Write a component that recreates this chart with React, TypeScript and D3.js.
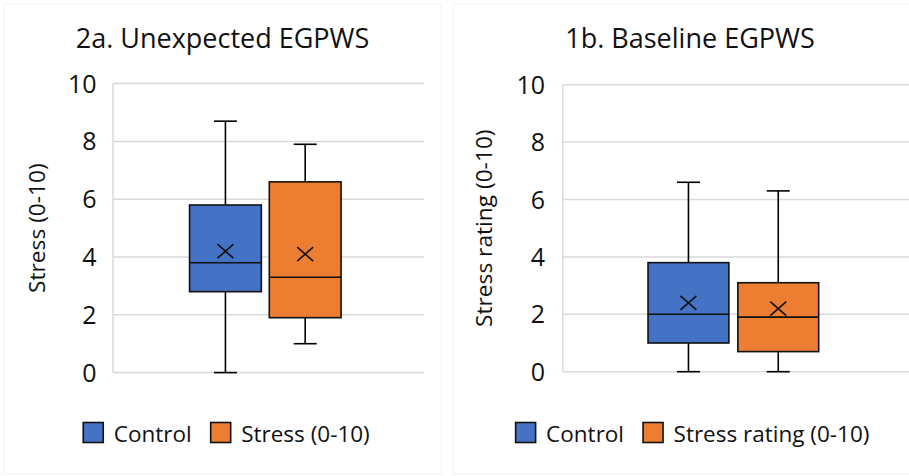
import React from "react";
import * as d3 from "d3";

// Summary statistics for each box (min, quartiles, max, mean)
const unexpectedTitle = "2a. Unexpected EGPWS";
const unexpectedAxisLabel = "Stress (0-10)";
const unexpectedSeries = ["Control", "Stress (0-10)"];
const unexpectedMin = [0, 1.0];
const unexpectedQ1 = [2.8, 1.9];
const unexpectedMedian = [3.8, 3.3];
const unexpectedQ3 = [5.8, 6.6];
const unexpectedMax = [8.7, 7.9];
const unexpectedMean = [4.2, 4.1];

const baselineTitle = "1b. Baseline EGPWS";
const baselineAxisLabel = "Stress rating (0-10)";
const baselineSeries = ["Control", "Stress rating (0-10)"];
const baselineMin = [0, 0];
const baselineQ1 = [1.0, 0.7];
const baselineMedian = [2.0, 1.9];
const baselineQ3 = [3.8, 3.1];
const baselineMax = [6.6, 6.3];
const baselineMean = [2.4, 2.2];

const yTicks = [0, 2, 4, 6, 8, 10];
const seriesColors = ["#4472C4", "#ED7D31"];

const FONT = "'Open Sans', 'Noto Sans', sans-serif";
const LEGEND_SIZE = 22.5;
const INK = "#111111";

function measure(text: string, size: number): number {
  const canvas = document.createElement("canvas");
  const ctx = canvas.getContext("2d");
  if (!ctx) return text.length * size * 0.55;
  ctx.font = `${size}px 'Open Sans'`;
  return ctx.measureText(text).width;
}

type PanelProps = {
  title: string;
  axisLabel: string;
  series: string[];
  mins: number[];
  q1s: number[];
  medians: number[];
  q3s: number[];
  maxs: number[];
  means: number[];
  frame: [number, number, number, number]; // x0, y0, x1, y1 of chart area
  plotX: [number, number];
  plotY: [number, number];
  bandAlign: number;
  paddingOuter: number;
  gridRight: number;
  axisLabelX: number;
  tickRight: number;
  center: number;
  legendCenter: number;
};

function Panel(p: PanelProps) {
  const y = d3.scaleLinear().domain([0, 10]).range([p.plotY[0], p.plotY[1]]);
  const x = d3
    .scaleBand<string>()
    .domain(p.series)
    .range(p.plotX)
    .paddingInner(0.1)
    .paddingOuter(p.paddingOuter)
    .align(p.bandAlign);
  const bw = x.bandwidth();
  const capHalf = 11.5;

  // legend layout, centred under the chart
  const markerW = 20;
  const textGap = 10.5;
  const itemGap = 19;
  const widths = p.series.map((s) => measure(s, LEGEND_SIZE));
  const total =
    widths.reduce((a, w) => a + markerW + textGap + w, 0) + itemGap * (p.series.length - 1);
  let lx = p.legendCenter - total / 2;
  const legendItems = p.series.map((s, i) => {
    const item = { x: lx, label: s, color: seriesColors[i] };
    lx += markerW + textGap + widths[i] + itemGap;
    return item;
  });

  const plotCenterY = (p.plotY[0] + p.plotY[1]) / 2;

  return (
    <g>
      <rect
        x={p.frame[0]}
        y={p.frame[1]}
        width={p.frame[2] - p.frame[0]}
        height={p.frame[3] - p.frame[1]}
        fill="#ffffff"
        stroke="#f3f3f3"
        strokeWidth={1}
      />
      <text
        x={p.center}
        y={47.5}
        textAnchor="middle"
        fontFamily={FONT}
        fontSize={27}
        fill={INK}
      >
        {p.title}
      </text>

      {/* gridlines */}
      {yTicks.map((t) => (
        <line
          key={`g${t}`}
          x1={p.plotX[0]}
          x2={p.gridRight}
          y1={y(t)}
          y2={y(t)}
          stroke="#d9d9d9"
          strokeWidth={1.5}
        />
      ))}
      <line
        x1={p.plotX[0]}
        x2={p.plotX[0]}
        y1={y(0)}
        y2={y(10)}
        stroke="#d9d9d9"
        strokeWidth={1.5}
      />

      {/* tick labels */}
      {yTicks.map((t) => (
        <text
          key={`t${t}`}
          x={p.tickRight}
          y={y(t) + 9}
          textAnchor="end"
          fontFamily={FONT}
          fontSize={25}
          fill={INK}
        >
          {t}
        </text>
      ))}

      <text
        transform={`translate(${p.axisLabelX},${plotCenterY}) rotate(-90)`}
        textAnchor="middle"
        dominantBaseline="central"
        fontFamily={FONT}
        fontSize={22.7}
        fill={INK}
      >
        {p.axisLabel}
      </text>

      {/* boxes */}
      {p.series.map((s, i) => {
        const x0 = x(s) ?? 0;
        const cx = x0 + bw / 2;
        const mx = 8;
        const my = 7;
        return (
          <g key={s}>
            <line x1={cx} x2={cx} y1={y(p.maxs[i])} y2={y(p.q3s[i])} stroke="#000" strokeWidth={1.6} />
            <line x1={cx} x2={cx} y1={y(p.q1s[i])} y2={y(p.mins[i])} stroke="#000" strokeWidth={1.6} />
            <line
              x1={cx - capHalf}
              x2={cx + capHalf}
              y1={y(p.maxs[i])}
              y2={y(p.maxs[i])}
              stroke="#000"
              strokeWidth={1.6}
            />
            <line
              x1={cx - capHalf}
              x2={cx + capHalf}
              y1={y(p.mins[i])}
              y2={y(p.mins[i])}
              stroke="#000"
              strokeWidth={1.6}
            />
            <rect
              x={x0}
              y={y(p.q3s[i])}
              width={bw}
              height={y(p.q1s[i]) - y(p.q3s[i])}
              fill={seriesColors[i]}
              stroke={INK}
              strokeWidth={1.6}
            />
            <line
              x1={x0}
              x2={x0 + bw}
              y1={y(p.medians[i])}
              y2={y(p.medians[i])}
              stroke={INK}
              strokeWidth={1.6}
            />
            <path
              d={`M${cx - mx},${y(p.means[i]) - my}L${cx + mx},${y(p.means[i]) + my}M${cx - mx},${
                y(p.means[i]) + my
              }L${cx + mx},${y(p.means[i]) - my}`}
              stroke={INK}
              strokeWidth={1.6}
              fill="none"
            />
          </g>
        );
      })}

      {/* legend */}
      {legendItems.map((it) => (
        <g key={it.label}>
          <rect
            x={it.x}
            y={422.5}
            width={markerW}
            height={20}
            fill={it.color}
            stroke={INK}
            strokeWidth={1.6}
          />
          <text
            x={it.x + markerW + textGap}
            y={441.5}
            fontFamily={FONT}
            fontSize={LEGEND_SIZE}
            fill={INK}
          >
            {it.label}
          </text>
        </g>
      ))}
    </g>
  );
}

export default function App() {
  return (
    <svg
      width={909}
      height={476}
      style={{ position: "absolute", left: 0, top: 0, background: "#ffffff" }}
    >
      <rect x={0} y={0} width={909} height={476} fill="#ffffff" />
      <Panel
        title={unexpectedTitle}
        axisLabel={unexpectedAxisLabel}
        series={unexpectedSeries}
        mins={unexpectedMin}
        q1s={unexpectedQ1}
        medians={unexpectedMedian}
        q3s={unexpectedQ3}
        maxs={unexpectedMax}
        means={unexpectedMean}
        frame={[4, 4, 441, 474]}
        plotX={[113, 424]}
        plotY={[372.6, 83.6]}
        bandAlign={0.48}
        paddingOuter={1}
        gridRight={424}
        axisLabelX={36}
        tickRight={96.5}
        center={222.5}
        legendCenter={226.5}
      />
      <Panel
        title={baselineTitle}
        axisLabel={baselineAxisLabel}
        series={baselineSeries}
        mins={baselineMin}
        q1s={baselineQ1}
        medians={baselineMedian}
        q3s={baselineQ3}
        maxs={baselineMax}
        means={baselineMean}
        frame={[453, 4, 930, 474]}
        plotX={[562.7, 904]}
        plotY={[371.7, 84.7]}
        bandAlign={0.5}
        paddingOuter={0.95}
        gridRight={909}
        axisLabelX={483}
        tickRight={545}
        center={690}
        legendCenter={692.5}
      />
    </svg>
  );
}
